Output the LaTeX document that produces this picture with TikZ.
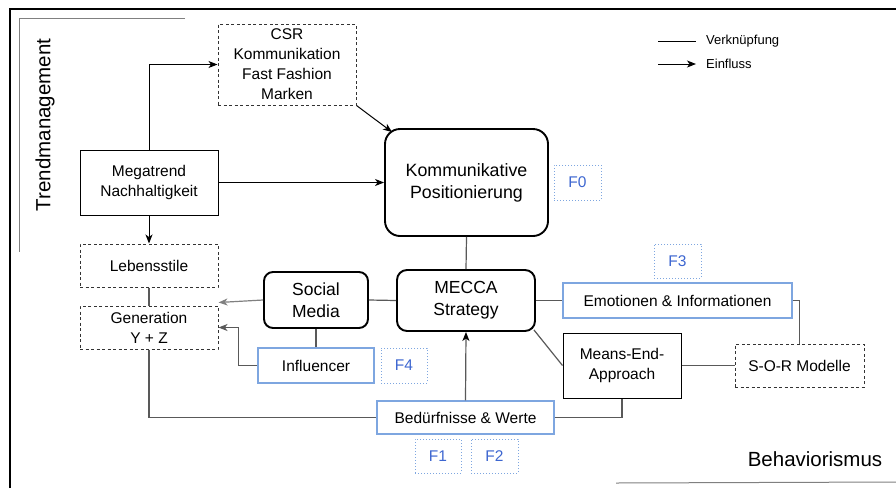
\documentclass[tikz,border=0pt]{standalone}
\usepackage{fontspec}
\setmainfont{Liberation Sans}
\usetikzlibrary{arrows.meta}
\definecolor{blueB}{HTML}{7EA6E0}
\definecolor{blueT}{HTML}{3D66D0}
\definecolor{lineG}{HTML}{595959}
\begin{document}
\begin{tikzpicture}[x=1pt,y=-1pt,
  base/.style={inner sep=0pt, align=center, font=\fontsize{15.5}{20}\selectfont, line width=1pt},
  sbox/.style={base, draw=black},
  dbox/.style={base, draw=black!80, dash pattern=on 3pt off 2.5pt},
  bbox/.style={base, draw=blueB, line width=1.2pt},
  fbox/.style={base, draw=blueB, dash pattern=on 1pt off 2pt, line width=1pt, text=blueT},
  rbox/.style={base, draw=black, line width=1.9pt, rounded corners=11pt},
  arr/.style={-{Stealth[length=9pt,width=7pt,inset=2.5pt]}, line width=1pt},
  gl/.style={draw=lineG, line width=1.2pt},
  garr/.style={gl, -{Stealth[length=9pt,width=7pt,inset=2.5pt]}}]
\useasboundingbox (0,0) rectangle (896,488);
% frame
\draw[line width=1.2pt] (10,488) -- (10,9) -- (896,9);
\draw[gray, line width=0.8pt] (185,18) -- (19,18) -- (19,252);
\draw[gray, line width=1pt] (616,483) -- (896,482);
\node[rotate=90, font=\fontsize{20.5}{24}\selectfont] (trend) at (45,125) {Trendmanagement};
\node[font=\fontsize{20.5}{24}\selectfont] (behav) at (815,459) {Behaviorismus};
% legend
\coordinate (l1a) at (658,41); \coordinate (l1b) at (696,41);
\coordinate (l2a) at (658,64); \coordinate (l2b) at (696,64);
\draw[line width=1pt] (l1a) -- (l1b);
\draw[arr] (l2a) -- (l2b);
\node[anchor=west, inner sep=0pt, font=\fontsize{13}{15}\selectfont] (lv) at (706,41) {Verknüpfung};
\node[anchor=west, inner sep=0pt, font=\fontsize{13}{15}\selectfont] (le) at (706,64) {Einfluss};
% nodes
\node[dbox, minimum width=138pt, minimum height=81pt] (csr) at (287,64.5) {CSR\\Kommunikation\\Fast Fashion\\Marken};
\node[sbox, minimum width=138pt, minimum height=65pt] (mega) at (149,182.5) {Megatrend\\Nachhaltigkeit};
\node[rbox, rounded corners=15pt, minimum width=163pt, minimum height=107pt, font=\fontsize{17.8}{22}\selectfont] (komm) at (466.5,182.5) {Kommunikative\\Positionierung};
\node[fbox, minimum width=47pt, minimum height=35pt] (f0) at (577.5,182.5) {F0};
\node[dbox, minimum width=138pt, minimum height=43pt] (leben) at (149,265.5) {Lebensstile};
\node[dbox, minimum width=138pt, minimum height=43pt] (gen) at (149,327.5) {Generation\\Y + Z};
\node[rbox, rounded corners=9pt, minimum width=104pt, minimum height=56pt, font=\fontsize{17.5}{22}\selectfont] (social) at (316,300) {Social\\Media};
\node[rbox, rounded corners=10pt, minimum width=138pt, minimum height=61pt, font=\fontsize{17.5}{22}\selectfont] (mecca) at (466,300.5) {MECCA\\Strategy};
\node[bbox, minimum width=116pt, minimum height=35pt] (infl) at (316,365.5) {Influencer};
\node[fbox, minimum width=46pt, minimum height=35pt] (f4) at (404,365.5) {F4};
\node[bbox, minimum width=177pt, minimum height=33pt] (bed) at (465.5,417.5) {Bedürfnisse \& Werte};
\node[fbox, minimum width=46pt, minimum height=34pt] (f1) at (438,456) {F1};
\node[fbox, minimum width=47pt, minimum height=34pt] (f2) at (494.5,456) {F2};
\node[fbox, minimum width=47pt, minimum height=34pt] (f3) at (677.5,261) {F3};
\node[bbox, minimum width=229pt, minimum height=35pt] (emo) at (677.5,300.5) {Emotionen \& Informationen};
\node[sbox, minimum width=118pt, minimum height=65pt] (means) at (622,365.5) {Means-End-\\Approach};
\node[dbox, minimum width=129pt, minimum height=43pt] (sor) at (799.5,365.5) {S-O-R Modelle};
% connectors
\draw[arr] (mega.north) |- (csr.west);
\draw[arr] (csr.south east) -- ([shift={(8,4)}]komm.north west);
\draw[arr] (mega.east) -- (komm.west);
\draw[arr] (mega.south) -- (leben.north);
\draw[gl] (leben.south) -- (gen.north);
\draw[garr, draw=gray] (social.west) -- ([shift={(0,-3)}]gen.north east);
\draw[garr] (infl.west) -| ([xshift=20pt]gen.east) -- (gen.east);
\draw[gl] (social.south) -- (infl.north);
\draw[gl] (social.east) -- (mecca.west);
\draw[gl] (komm.south) -- (mecca.north);
\draw[gl] (mecca.east) -- (emo.west);
\draw[gl] ([shift={(-2,-2)}]mecca.south east) -- (means.west);
\draw[gl, -{Stealth[length=9pt,width=7pt,inset=2.5pt,color=black]}] (bed.north) -- (mecca.south);
\draw[gl] (gen.south) |- (bed.west);
\draw[gl] (bed.east) -| (means.south);
\draw[gl] (means.east) -- (sor.west);
\draw[gl] (emo.east) -| (sor.north);
\end{tikzpicture}
\end{document}
